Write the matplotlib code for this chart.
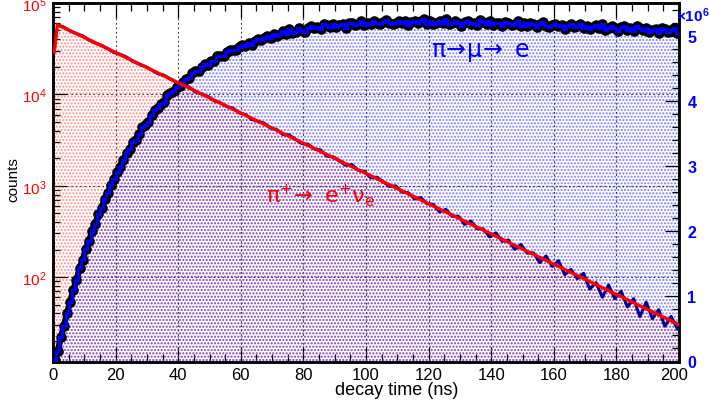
import numpy as np
import matplotlib
matplotlib.use('Agg')
import matplotlib.pyplot as plt
import matplotlib.transforms as mtransforms
from matplotlib.ticker import FixedLocator, FixedFormatter, MultipleLocator, LogLocator, NullFormatter

plt.rcParams['font.family'] = ['Liberation Sans', 'DejaVu Sans']
plt.rcParams['mathtext.fontset'] = 'custom'
plt.rcParams['mathtext.rm'] = 'Liberation Sans'
plt.rcParams['mathtext.it'] = 'Liberation Sans'
plt.rcParams['mathtext.bf'] = 'Liberation Sans:bold'
plt.rcParams['hatch.linewidth'] = 1.0

# ---------------- data ----------------
# pi -> mu -> e spectrum, 1 ns bins from 0 to 200 ns, in units of 1e6 counts (right axis)
mue_counts_1e6 = [
    0.02, 0.16, 0.37, 0.55, 0.75, 0.92, 1.10, 1.25, 1.43, 1.56,
    1.73, 1.85, 2.00, 2.12, 2.26, 2.36, 2.50, 2.59, 2.72, 2.80,
    2.92, 2.99, 3.10, 3.20, 3.26, 3.38, 3.41, 3.49, 3.60, 3.64,
    3.68, 3.79, 3.86, 3.89, 3.95, 3.99, 4.09, 4.12, 4.15, 4.22,
    4.23, 4.29, 4.34, 4.35, 4.43, 4.46, 4.47, 4.52, 4.58, 4.56,
    4.62, 4.62, 4.69, 4.69, 4.70, 4.75, 4.79, 4.78, 4.79, 4.83,
    4.87, 4.85, 4.89, 4.87, 4.92, 4.95, 4.94, 4.97, 5.00, 4.97,
    5.03, 5.00, 5.04, 5.08, 5.04, 5.11, 5.05, 5.07, 5.12, 5.10,
    5.06, 5.13, 5.15, 5.12, 5.14, 5.11, 5.19, 5.17, 5.14, 5.19,
    5.14, 5.17, 5.19, 5.13, 5.21, 5.20, 5.17, 5.19, 5.24, 5.17,
    5.21, 5.19, 5.23, 5.20, 5.18, 5.22, 5.25, 5.20, 5.18, 5.21,
    5.24, 5.20, 5.23, 5.17, 5.22, 5.24, 5.20, 5.23, 5.26, 5.19,
    5.23, 5.18, 5.21, 5.24, 5.20, 5.26, 5.18, 5.20, 5.24, 5.21,
    5.16, 5.22, 5.24, 5.19, 5.20, 5.17, 5.25, 5.22, 5.18, 5.23,
    5.17, 5.20, 5.21, 5.15, 5.22, 5.20, 5.17, 5.19, 5.23, 5.15,
    5.20, 5.16, 5.21, 5.18, 5.14, 5.19, 5.22, 5.15, 5.14, 5.17,
    5.19, 5.15, 5.17, 5.11, 5.16, 5.18, 5.14, 5.16, 5.19, 5.12,
    5.16, 5.11, 5.14, 5.17, 5.12, 5.18, 5.10, 5.12, 5.16, 5.13,
    5.08, 5.14, 5.15, 5.10, 5.12, 5.08, 5.16, 5.12, 5.09, 5.13,
    5.07, 5.10, 5.11, 5.05, 5.12, 5.11, 5.07, 5.09, 5.13, 5.05,
]
mue_edges_ns = np.arange(0, len(mue_counts_1e6) + 1, 1.0)

# pi -> e nu spectrum (data), 2 ns bins starting at 0.5 ns (left axis, log)
enu_counts = [
    57500, 54400, 49400, 46200, 43700, 39300, 36400, 34400, 31600, 28700,
    27400, 25600, 23000, 21400, 20200, 18500, 16800, 16200, 14700, 13500,
    12800, 12000, 10650, 10100, 9500, 8470, 8090, 7350, 7080, 6250,
    6020, 5310, 5070, 4840, 4270, 4120, 3630, 3600, 3210, 2890,
    2840, 2530, 2460, 2105, 2070, 1880, 1675, 1700, 1470, 1430,
    1220, 1240, 1105, 982, 995, 853, 838, 716, 741, 635,
    624, 517, 551, 463, 464, 377, 410, 338, 336, 275,
    305, 246, 254, 201, 227, 183, 184, 144, 170, 131,
    151, 106, 121, 96, 110, 74, 87, 60, 82, 58,
    70, 47, 58, 37, 53, 35, 44, 29, 37, 27,
]
enu_edges_ns = np.arange(0.5, 0.5 + 2 * len(enu_counts) + 0.1, 2.0)

# pi -> e nu fitted curve
enu_fit_t = [0.4, 1.4, 10, 20, 30, 40, 50, 60, 70, 80, 90, 100,
             110, 120, 130, 140, 150, 160, 170, 180, 190, 200]
enu_fit_counts = [29000, 58000, 42020, 28710, 19610, 13400, 9153, 6252, 4271, 2917, 1993,
                  1361, 930, 635, 434, 296.5, 202.6, 138.4, 94.5, 64.6, 44.1, 30.1]

x_ticks = [0, 20, 40, 60, 80, 100, 120, 140, 160, 180, 200]
left_ticks = [1e2, 1e3, 1e4, 1e5]
left_labels = [r'$\mathregular{10^{2}}$', r'$\mathregular{10^{3}}$',
               r'$\mathregular{10^{4}}$', r'$\mathregular{10^{5}}$']
right_ticks = [0, 1, 2, 3, 4, 5]
right_labels = ['0', '1', '2', '3', '4', '5']

# ---------------- figure ----------------
W, H = 710, 406
fig = plt.figure(figsize=(W / 100, H / 100), dpi=100)
L, R, B, T = 53, 679, 362.5, 4
ax = fig.add_axes([L / W, 1 - B / H, (R - L) / W, (B - T) / H])   # left log axis (bottom layer)
ax2 = ax.twinx()                                                   # right linear axis
ax3 = ax.twinx()                                                   # top layer for e-nu lines
ax.set_zorder(1)
ax2.set_zorder(2)
ax3.set_zorder(3)
ax2.patch.set_visible(False)
ax3.patch.set_visible(False)

YMIN_LOG = 11.9
for a in (ax, ax3):
    a.set_yscale('log')
    a.set_ylim(YMIN_LOG, 1e5)
ax.set_xlim(0, 200)
ax2.set_ylim(0, 5.51)
ax3.axis('off')

RED = (1.0, 0.0, 0.0)
BLUE = (0.0, 0.0, 1.0)
NAVY = (0.0, 0.0, 0.6)

# red (e nu) fill on bottom layer
ax.fill_between(enu_fit_t, enu_fit_counts, YMIN_LOG, facecolor='none',
                edgecolor=(1.0, 0.15, 0.15, 0.5), hatch='.....', linewidth=0, zorder=1)

# blue (mu) histogram fill + data
ax2.stairs(mue_counts_1e6, mue_edges_ns, baseline=0, fill=True, facecolor='none',
           edgecolor=(0.15, 0.15, 1.0, 0.6), hatch='.....', linewidth=0, zorder=1)
centers = 0.5 * (mue_edges_ns[:-1] + mue_edges_ns[1:])
ax2.plot(centers, mue_counts_1e6, '-', color='black', linewidth=4.5, zorder=2)
ax2.plot(centers, mue_counts_1e6, 'o', color='black', ms=6.6, zorder=3)
ax2.stairs(mue_counts_1e6, mue_edges_ns, baseline=None, color=BLUE, linewidth=2.2, zorder=4)

# e nu data and fit lines on top layer
enu_centers = 0.5 * (enu_edges_ns[:-1] + enu_edges_ns[1:])
ax3.plot(enu_centers, enu_counts, color=NAVY, linewidth=2.2, zorder=3)
ax3.plot(enu_fit_t, enu_fit_counts, color=RED, linewidth=2.4, zorder=4)

# grid
ax.set_axisbelow(True)
ax.grid(True, which='major', axis='both', linestyle=(0, (1.5, 2.5)), color='#333333', linewidth=0.8)

# ticks
ax.xaxis.set_major_locator(FixedLocator(x_ticks))
ax.xaxis.set_minor_locator(MultipleLocator(5))
ax.yaxis.set_major_locator(FixedLocator(left_ticks))
ax.yaxis.set_major_formatter(FixedFormatter(left_labels))
ax.yaxis.set_minor_locator(LogLocator(base=10, subs=np.arange(2, 10)))
ax.yaxis.set_minor_formatter(NullFormatter())
ax.tick_params(axis='x', which='both', direction='in', top=True, bottom=True, labelsize=12, pad=4,
               width=0.9, colors='black')
ax.tick_params(axis='x', which='major', length=11)
ax.tick_params(axis='x', which='minor', length=5.5)
ax.tick_params(axis='y', which='both', direction='in', left=True, right=False, labelsize=11,
               pad=4.5, width=0.9, labelcolor=RED)
ax.tick_params(axis='y', which='major', length=10)
ax.tick_params(axis='y', which='minor', length=5)

ax2.yaxis.set_major_locator(FixedLocator(right_ticks))
ax2.yaxis.set_major_formatter(FixedFormatter(right_labels))
ax2.yaxis.set_minor_locator(MultipleLocator(0.2))
ax2.tick_params(axis='y', which='both', direction='in', right=True, left=False, labelsize=11.5,
                pad=6, width=0.9, labelcolor=BLUE)
ax2.tick_params(axis='y', which='major', length=10)
ax2.tick_params(axis='y', which='minor', length=5)
for lab in ax2.get_yticklabels():
    lab.set_fontweight('bold')

# shift the last x tick label slightly left (as in the reference)
last_lab = ax.get_xticklabels()[-1]
last_lab.set_transform(last_lab.get_transform() +
                       mtransforms.ScaledTranslation(-5 / 100, 0, fig.dpi_scale_trans))

for a in (ax, ax2):
    for s in a.spines.values():
        s.set_linewidth(1.8)
        s.set_color('black')

# texts
fig.text(397 / W, 1 - 391 / H, 'decay time (ns)', ha='center', va='center', fontsize=13)
fig.text(13 / W, 1 - 180 / H, 'counts', rotation=90, ha='center', va='center', fontsize=11)
fig.text(676 / W, 1 - 22 / H, r'$\mathbf{\times10^{6}}$', color=BLUE, fontsize=11,
         ha='left', va='baseline')
fig.text(431 / W, 1 - 57 / H, r'$\mathrm{\pi\!\rightarrow\!\mu\!\rightarrow\ e}$', color=BLUE,
         fontsize=17, ha='left', va='baseline', math_fontfamily='dejavusans')
fig.text(266 / W, 1 - 203 / H, r'$\mathrm{\pi^{+}\!\rightarrow\ e^{+}\nu_{e}}$', color=RED,
         fontsize=16, ha='left', va='baseline', math_fontfamily='dejavusans')

fig.savefig('out.png', dpi=100)
